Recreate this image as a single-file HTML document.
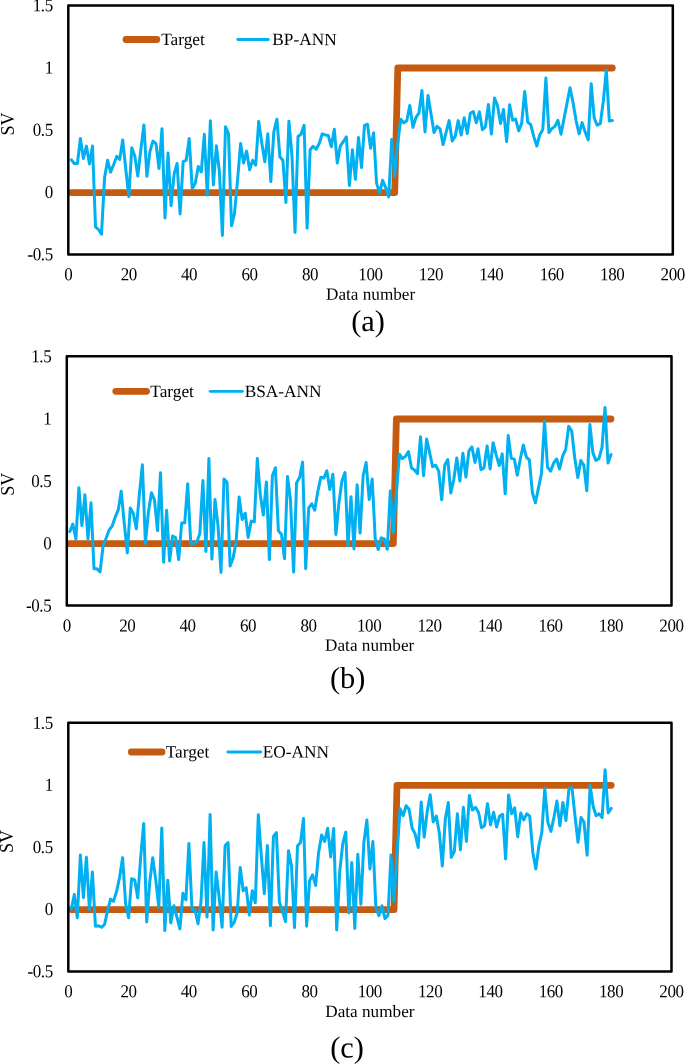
<!DOCTYPE html>
<html><head><meta charset="utf-8"><title>Figure</title>
<style>
html,body{margin:0;padding:0;background:#fff;}
body{width:685px;height:1064px;overflow:hidden;}
svg{display:block;will-change:transform;}
text{font-family:"Liberation Serif","Times New Roman",serif;fill:#000;}
.tk{text-rendering:geometricPrecision;}
</style></head><body>
<svg width="685" height="1064" viewBox="0 0 685 1064">
<rect x="0" y="0" width="685" height="1064" fill="#fff"/>

<polyline fill="none" stroke="#C55A11" stroke-width="6.8" stroke-linecap="round" stroke-linejoin="round" points="71.3,192.6 394.7,192.6 397.8,68.0 612.3,68.0"/>
<polyline fill="none" stroke="#00B0F0" stroke-width="3" stroke-linecap="round" stroke-linejoin="round" points="71.3,159.8 74.3,163.5 77.4,163.5 80.4,138.6 83.4,158.5 86.4,146.1 89.5,163.9 92.5,146.1 95.5,226.8 98.5,229.5 101.5,234.2 104.6,177.2 107.6,160.3 110.6,172.2 113.6,164.8 116.7,156.4 119.7,159.4 122.7,139.9 125.7,168.5 128.8,196.6 131.8,147.8 134.8,156.0 137.8,176.0 140.8,149.8 143.9,124.9 146.9,176.3 149.9,151.6 152.9,141.1 156.0,143.6 159.0,168.5 162.0,128.7 165.0,218.0 168.0,153.1 171.1,205.7 174.1,174.1 177.1,163.5 180.1,213.9 183.2,161.3 186.2,160.3 189.2,138.6 192.2,188.4 195.2,183.4 198.3,166.6 201.3,171.9 204.3,134.3 207.3,195.1 210.4,120.7 213.4,184.9 216.4,145.8 219.4,171.9 222.4,235.5 225.5,126.8 228.5,133.6 231.5,225.8 234.5,213.3 237.6,179.7 240.6,143.6 243.6,162.9 246.6,151.1 249.6,169.7 252.7,160.3 255.7,165.1 258.7,121.4 261.7,142.4 264.8,161.8 267.8,133.8 270.8,181.6 273.8,132.0 276.9,119.2 279.9,156.8 282.9,160.5 285.9,202.4 288.9,121.2 292.0,156.0 295.0,232.5 298.0,136.5 301.0,134.3 304.1,125.3 307.1,228.3 310.1,149.8 313.1,146.3 316.1,149.3 319.2,143.6 322.2,133.8 325.2,134.9 328.2,135.4 331.3,146.7 334.3,129.3 337.3,163.1 340.3,146.1 343.3,141.7 346.4,136.9 349.4,185.4 352.4,149.8 355.4,179.3 358.5,137.4 361.5,167.6 364.5,125.3 367.5,124.2 370.6,148.2 373.6,132.8 376.6,183.4 379.6,192.9 382.6,180.4 385.7,187.7 388.7,197.0 391.7,139.5 394.7,176.3 397.8,142.4 400.8,119.2 403.8,122.9 406.8,120.7 409.8,105.4 412.9,127.4 415.9,117.7 418.9,113.2 421.9,90.4 425.0,131.9 428.0,95.5 431.0,113.7 434.0,132.6 437.0,126.3 440.1,128.9 443.1,144.6 446.1,132.4 449.1,120.6 452.2,140.9 455.2,136.4 458.2,120.6 461.2,135.1 464.2,117.8 467.3,133.6 470.3,113.3 473.3,111.6 476.3,122.8 479.4,111.8 482.4,129.7 485.4,126.9 488.4,104.4 491.4,134.1 494.5,98.0 497.5,105.5 500.5,123.6 503.5,109.4 506.6,141.6 509.6,104.8 512.6,120.2 515.6,119.1 518.7,130.9 521.7,123.1 524.7,91.4 527.7,122.2 530.7,124.7 533.8,136.6 536.8,146.0 539.8,134.8 542.8,129.4 545.9,78.1 548.9,132.6 551.9,128.7 554.9,126.3 557.9,120.3 561.0,134.3 564.0,118.7 567.0,103.3 570.0,87.7 573.1,103.0 576.1,120.6 579.1,133.8 582.1,122.6 585.1,131.9 588.2,139.9 591.2,83.7 594.2,118.2 597.2,125.2 600.3,123.6 603.3,101.4 606.3,70.1 609.3,121.1 612.3,120.6"/>
<rect x="68.3" y="5.4" width="604.5" height="249.0" fill="none" stroke="#000" stroke-width="2.5" stroke-linejoin="round"/>
<text transform="translate(52.7,11.3) rotate(0.05) scale(0.93,1)" class="tk" font-size="18.3" letter-spacing="-0.48" text-anchor="end">1.5</text>
<text transform="translate(52.7,73.6) rotate(0.05) scale(0.93,1)" class="tk" font-size="18.3" letter-spacing="-0.48" text-anchor="end">1</text>
<text transform="translate(52.7,135.8) rotate(0.05) scale(0.93,1)" class="tk" font-size="18.3" letter-spacing="-0.48" text-anchor="end">0.5</text>
<text transform="translate(52.7,198.1) rotate(0.05) scale(0.93,1)" class="tk" font-size="18.3" letter-spacing="-0.48" text-anchor="end">0</text>
<text transform="translate(52.7,260.3) rotate(0.05) scale(0.93,1)" class="tk" font-size="18.3" letter-spacing="-0.48" text-anchor="end">-0.5</text>
<text transform="translate(68.2,280.3) rotate(0.05) scale(0.93,1)" class="tk" font-size="18.3" letter-spacing="-0.48" text-anchor="middle">0</text>
<text transform="translate(128.7,280.3) rotate(0.05) scale(0.93,1)" class="tk" font-size="18.3" letter-spacing="-0.48" text-anchor="middle">20</text>
<text transform="translate(189.1,280.3) rotate(0.05) scale(0.93,1)" class="tk" font-size="18.3" letter-spacing="-0.48" text-anchor="middle">40</text>
<text transform="translate(249.5,280.3) rotate(0.05) scale(0.93,1)" class="tk" font-size="18.3" letter-spacing="-0.48" text-anchor="middle">60</text>
<text transform="translate(310.0,280.3) rotate(0.05) scale(0.93,1)" class="tk" font-size="18.3" letter-spacing="-0.48" text-anchor="middle">80</text>
<text transform="translate(370.4,280.3) rotate(0.05) scale(0.93,1)" class="tk" font-size="18.3" letter-spacing="-0.48" text-anchor="middle">100</text>
<text transform="translate(430.9,280.3) rotate(0.05) scale(0.93,1)" class="tk" font-size="18.3" letter-spacing="-0.48" text-anchor="middle">120</text>
<text transform="translate(491.3,280.3) rotate(0.05) scale(0.93,1)" class="tk" font-size="18.3" letter-spacing="-0.48" text-anchor="middle">140</text>
<text transform="translate(551.8,280.3) rotate(0.05) scale(0.93,1)" class="tk" font-size="18.3" letter-spacing="-0.48" text-anchor="middle">160</text>
<text transform="translate(612.2,280.3) rotate(0.05) scale(0.93,1)" class="tk" font-size="18.3" letter-spacing="-0.48" text-anchor="middle">180</text>
<text transform="translate(672.7,280.3) rotate(0.05) scale(0.93,1)" class="tk" font-size="18.3" letter-spacing="-0.48" text-anchor="middle">200</text>
<text class="tk" transform="translate(370.6,299.8) rotate(0.03)" font-size="17.2" text-anchor="middle">Data number</text>
<text class="tk" transform="translate(368,330.9) rotate(0.03)" font-size="30.4" text-anchor="middle">(a)</text>
<text transform="translate(13.5,124) rotate(-90) scale(0.94,1)" font-size="19.2" text-anchor="middle">SV</text>
<line x1="126" y1="39.5" x2="156.8" y2="39.5" stroke="#C55A11" stroke-width="6.8" stroke-linecap="round"/>
<text class="tk" transform="translate(161.2,45.1) rotate(0.03)" font-size="17.3">Target</text>
<line x1="237.8" y1="39.5" x2="268.3" y2="39.5" stroke="#00B0F0" stroke-width="2.8" stroke-linecap="round"/>
<text class="tk" transform="translate(272.3,45.1) rotate(0.03)" font-size="17.3">BP-ANN</text>
<polyline fill="none" stroke="#C55A11" stroke-width="6.8" stroke-linecap="round" stroke-linejoin="round" points="69.8,543.7 393.3,543.7 396.4,419.0 611.0,419.0"/>
<polyline fill="none" stroke="#00B0F0" stroke-width="3" stroke-linecap="round" stroke-linejoin="round" points="69.8,531.6 72.8,524.1 75.9,539.0 78.9,487.7 81.9,525.6 84.9,494.8 88.0,539.0 91.0,502.8 94.0,568.8 97.0,568.8 100.1,571.8 103.1,545.8 106.1,538.3 109.1,530.1 112.2,525.8 115.2,517.2 118.2,510.2 121.2,491.3 124.2,522.6 127.3,552.9 130.3,507.9 133.3,513.5 136.3,528.8 139.4,494.0 142.4,464.7 145.4,543.5 148.4,512.1 151.5,492.8 154.5,500.0 157.5,530.6 160.5,472.8 163.6,562.3 166.6,510.2 169.6,560.9 172.6,536.0 175.6,537.5 178.7,559.6 181.7,523.0 184.7,523.0 187.7,483.8 190.8,543.9 193.8,543.5 196.8,542.0 199.8,533.8 202.9,480.5 205.9,551.4 208.9,458.6 211.9,559.1 215.0,499.6 218.0,525.6 221.0,572.4 224.0,479.0 227.0,482.3 230.1,566.1 233.1,557.9 236.1,542.0 239.1,497.0 242.2,519.6 245.2,513.2 248.2,537.5 251.2,521.1 254.3,521.8 257.3,458.6 260.3,494.7 263.3,515.0 266.4,481.9 269.4,559.6 272.4,475.7 275.4,467.7 278.4,530.8 281.5,534.5 284.5,558.6 287.5,476.5 290.5,500.0 293.6,572.1 296.6,482.7 299.6,477.5 302.6,462.1 305.7,568.7 308.7,507.9 311.7,503.8 314.7,510.2 317.8,491.8 320.8,477.2 323.8,478.2 326.8,470.7 329.8,489.4 332.9,474.2 335.9,534.5 338.9,503.4 341.9,481.0 345.0,472.6 348.0,545.8 351.0,496.7 354.0,548.9 357.1,484.7 360.1,533.1 363.1,476.0 366.1,462.5 369.2,499.6 372.2,479.0 375.2,538.3 378.2,549.5 381.2,537.9 384.3,539.0 387.3,549.3 390.3,491.0 393.3,532.8 396.4,493.4 399.4,454.2 402.4,458.6 405.4,456.4 408.5,451.7 411.5,468.1 414.5,470.0 417.5,473.7 420.5,436.7 423.6,475.7 426.6,438.9 429.6,452.3 432.6,466.7 435.7,465.2 438.7,471.2 441.7,499.8 444.7,465.2 447.8,459.5 450.8,493.0 453.8,479.5 456.8,458.0 459.9,481.0 462.9,453.2 465.9,477.0 468.9,450.9 471.9,446.9 475.0,462.5 478.0,448.7 481.0,469.7 484.0,467.9 487.1,445.9 490.1,469.0 493.1,442.7 496.1,454.6 499.2,465.6 502.2,453.9 505.2,493.8 508.2,435.6 511.3,458.4 514.3,459.1 517.3,475.3 520.3,459.0 523.3,445.1 526.4,457.1 529.4,460.1 532.4,492.8 535.4,502.8 538.5,487.9 541.5,473.2 544.5,420.9 547.5,467.1 550.6,471.1 553.6,463.1 556.6,459.0 559.6,469.0 562.7,455.9 565.7,449.4 568.7,426.2 571.7,431.0 574.7,457.5 577.8,477.5 580.8,460.6 583.8,465.1 586.8,490.8 589.9,424.6 592.9,452.9 595.9,460.4 598.9,458.8 602.0,447.5 605.0,407.4 608.0,463.1 611.0,454.5"/>
<rect x="66.8" y="356.3" width="604.7" height="249.3" fill="none" stroke="#000" stroke-width="2.5" stroke-linejoin="round"/>
<text transform="translate(51.2,362.2) rotate(0.05) scale(0.93,1)" class="tk" font-size="18.3" letter-spacing="-0.48" text-anchor="end">1.5</text>
<text transform="translate(51.2,424.5) rotate(0.05) scale(0.93,1)" class="tk" font-size="18.3" letter-spacing="-0.48" text-anchor="end">1</text>
<text transform="translate(51.2,486.9) rotate(0.05) scale(0.93,1)" class="tk" font-size="18.3" letter-spacing="-0.48" text-anchor="end">0.5</text>
<text transform="translate(51.2,549.2) rotate(0.05) scale(0.93,1)" class="tk" font-size="18.3" letter-spacing="-0.48" text-anchor="end">0</text>
<text transform="translate(51.2,611.5) rotate(0.05) scale(0.93,1)" class="tk" font-size="18.3" letter-spacing="-0.48" text-anchor="end">-0.5</text>
<text transform="translate(66.7,631.5) rotate(0.05) scale(0.93,1)" class="tk" font-size="18.3" letter-spacing="-0.48" text-anchor="middle">0</text>
<text transform="translate(127.2,631.5) rotate(0.05) scale(0.93,1)" class="tk" font-size="18.3" letter-spacing="-0.48" text-anchor="middle">20</text>
<text transform="translate(187.6,631.5) rotate(0.05) scale(0.93,1)" class="tk" font-size="18.3" letter-spacing="-0.48" text-anchor="middle">40</text>
<text transform="translate(248.1,631.5) rotate(0.05) scale(0.93,1)" class="tk" font-size="18.3" letter-spacing="-0.48" text-anchor="middle">60</text>
<text transform="translate(308.6,631.5) rotate(0.05) scale(0.93,1)" class="tk" font-size="18.3" letter-spacing="-0.48" text-anchor="middle">80</text>
<text transform="translate(369.1,631.5) rotate(0.05) scale(0.93,1)" class="tk" font-size="18.3" letter-spacing="-0.48" text-anchor="middle">100</text>
<text transform="translate(429.5,631.5) rotate(0.05) scale(0.93,1)" class="tk" font-size="18.3" letter-spacing="-0.48" text-anchor="middle">120</text>
<text transform="translate(490.0,631.5) rotate(0.05) scale(0.93,1)" class="tk" font-size="18.3" letter-spacing="-0.48" text-anchor="middle">140</text>
<text transform="translate(550.5,631.5) rotate(0.05) scale(0.93,1)" class="tk" font-size="18.3" letter-spacing="-0.48" text-anchor="middle">160</text>
<text transform="translate(610.9,631.5) rotate(0.05) scale(0.93,1)" class="tk" font-size="18.3" letter-spacing="-0.48" text-anchor="middle">180</text>
<text transform="translate(671.4,631.5) rotate(0.05) scale(0.93,1)" class="tk" font-size="18.3" letter-spacing="-0.48" text-anchor="middle">200</text>
<text class="tk" transform="translate(369.7,650.8) rotate(0.03)" font-size="17.2" text-anchor="middle">Data number</text>
<text class="tk" transform="translate(347.7,688) rotate(0.03)" font-size="30.4" text-anchor="middle">(b)</text>
<text transform="translate(13.8,484.2) rotate(-90) scale(0.94,1)" font-size="19.2" text-anchor="middle">SV</text>
<line x1="115.8" y1="391.3" x2="146.5" y2="391.3" stroke="#C55A11" stroke-width="6.8" stroke-linecap="round"/>
<text class="tk" transform="translate(150.3,396.9) rotate(0.03)" font-size="17.3">Target</text>
<line x1="210.2" y1="391.3" x2="242.4" y2="391.3" stroke="#00B0F0" stroke-width="2.8" stroke-linecap="round"/>
<text class="tk" transform="translate(244.7,396.9) rotate(0.03)" font-size="17.3">BSA-ANN</text>
<polyline fill="none" stroke="#C55A11" stroke-width="6.8" stroke-linecap="round" stroke-linejoin="round" points="71.3,909.6 394.0,909.6 397.0,785.3 611.2,785.3"/>
<polyline fill="none" stroke="#00B0F0" stroke-width="3" stroke-linecap="round" stroke-linejoin="round" points="71.3,909.2 74.3,894.5 77.3,917.8 80.4,855.1 83.4,897.6 86.4,857.2 89.4,909.5 92.4,872.0 95.4,926.2 98.5,925.7 101.5,927.3 104.5,924.5 107.5,911.1 110.5,899.1 113.5,901.3 116.6,891.5 119.6,877.2 122.6,857.7 125.6,903.5 128.6,917.8 131.6,878.7 134.7,879.8 137.7,897.8 140.7,857.0 143.7,823.5 146.7,921.9 149.7,882.5 152.7,857.7 155.8,880.0 158.8,907.3 161.8,828.0 164.8,930.6 167.8,880.2 170.8,923.0 173.9,905.8 176.9,917.1 179.9,928.8 182.9,893.3 185.9,899.8 188.9,843.4 192.0,909.5 195.0,909.9 198.0,923.8 201.0,902.0 204.0,842.6 207.0,917.1 210.1,814.5 213.1,929.9 216.1,872.0 219.1,896.8 222.1,927.3 225.1,845.6 228.1,842.6 231.2,926.4 234.2,922.3 237.2,912.6 240.2,867.5 243.2,890.7 246.2,887.7 249.3,915.1 252.3,890.7 255.3,902.8 258.3,814.8 261.3,855.8 264.3,893.7 267.4,845.6 270.4,925.7 273.4,836.5 276.4,832.6 279.4,902.0 282.4,911.1 285.5,921.6 288.5,850.8 291.5,865.9 294.5,927.6 297.5,846.1 300.5,842.6 303.5,818.5 306.6,926.2 309.6,880.7 312.6,874.9 315.6,885.5 318.6,852.4 321.6,835.0 324.7,841.5 327.7,828.3 330.7,856.9 333.7,828.5 336.7,929.9 339.7,872.0 342.8,843.4 345.8,832.1 348.8,912.9 351.8,862.6 354.8,928.4 357.8,854.2 360.9,904.3 363.9,841.9 366.9,820.0 369.9,869.0 372.9,841.5 375.9,908.0 378.9,915.6 382.0,905.8 385.0,918.6 388.0,915.2 391.0,855.1 394.0,901.5 397.0,853.3 400.1,808.8 403.1,815.7 406.1,805.8 409.1,809.2 412.1,828.2 415.1,833.8 418.2,847.5 421.2,801.9 424.2,837.2 427.2,811.6 430.2,794.8 433.2,821.9 436.3,816.1 439.3,832.7 442.3,866.0 445.3,819.1 448.3,802.6 451.3,857.4 454.3,851.5 457.4,813.8 460.4,850.0 463.4,807.3 466.4,841.4 469.4,795.4 472.4,810.1 475.5,807.3 478.5,812.3 481.5,827.8 484.5,825.8 487.5,803.7 490.5,824.9 493.6,812.3 496.6,827.0 499.6,816.1 502.6,814.3 505.6,858.9 508.6,795.0 511.7,813.8 514.7,807.8 517.7,836.7 520.7,813.0 523.7,819.9 526.7,813.8 529.7,816.1 532.8,852.2 535.8,869.1 538.8,846.2 541.8,832.7 544.8,788.3 547.8,822.1 550.9,831.4 553.9,817.6 556.9,801.1 559.9,825.8 562.9,802.4 565.9,820.5 569.0,788.3 572.0,787.8 575.0,816.1 578.0,842.3 581.0,817.6 584.0,822.1 587.1,855.2 590.1,785.2 593.1,806.3 596.1,815.8 599.1,813.8 602.1,817.6 605.1,769.8 608.2,812.8 611.2,808.3"/>
<rect x="68.3" y="722.8" width="603.2" height="248.6" fill="none" stroke="#000" stroke-width="2.5" stroke-linejoin="round"/>
<text transform="translate(52.7,728.7) rotate(0.05) scale(0.93,1)" class="tk" font-size="18.3" letter-spacing="-0.48" text-anchor="end">1.5</text>
<text transform="translate(52.7,790.8) rotate(0.05) scale(0.93,1)" class="tk" font-size="18.3" letter-spacing="-0.48" text-anchor="end">1</text>
<text transform="translate(52.7,853.0) rotate(0.05) scale(0.93,1)" class="tk" font-size="18.3" letter-spacing="-0.48" text-anchor="end">0.5</text>
<text transform="translate(52.7,915.1) rotate(0.05) scale(0.93,1)" class="tk" font-size="18.3" letter-spacing="-0.48" text-anchor="end">0</text>
<text transform="translate(52.7,977.3) rotate(0.05) scale(0.93,1)" class="tk" font-size="18.3" letter-spacing="-0.48" text-anchor="end">-0.5</text>
<text transform="translate(68.2,997.3) rotate(0.05) scale(0.93,1)" class="tk" font-size="18.3" letter-spacing="-0.48" text-anchor="middle">0</text>
<text transform="translate(128.5,997.3) rotate(0.05) scale(0.93,1)" class="tk" font-size="18.3" letter-spacing="-0.48" text-anchor="middle">20</text>
<text transform="translate(188.8,997.3) rotate(0.05) scale(0.93,1)" class="tk" font-size="18.3" letter-spacing="-0.48" text-anchor="middle">40</text>
<text transform="translate(249.2,997.3) rotate(0.05) scale(0.93,1)" class="tk" font-size="18.3" letter-spacing="-0.48" text-anchor="middle">60</text>
<text transform="translate(309.5,997.3) rotate(0.05) scale(0.93,1)" class="tk" font-size="18.3" letter-spacing="-0.48" text-anchor="middle">80</text>
<text transform="translate(369.8,997.3) rotate(0.05) scale(0.93,1)" class="tk" font-size="18.3" letter-spacing="-0.48" text-anchor="middle">100</text>
<text transform="translate(430.1,997.3) rotate(0.05) scale(0.93,1)" class="tk" font-size="18.3" letter-spacing="-0.48" text-anchor="middle">120</text>
<text transform="translate(490.4,997.3) rotate(0.05) scale(0.93,1)" class="tk" font-size="18.3" letter-spacing="-0.48" text-anchor="middle">140</text>
<text transform="translate(550.8,997.3) rotate(0.05) scale(0.93,1)" class="tk" font-size="18.3" letter-spacing="-0.48" text-anchor="middle">160</text>
<text transform="translate(611.1,997.3) rotate(0.05) scale(0.93,1)" class="tk" font-size="18.3" letter-spacing="-0.48" text-anchor="middle">180</text>
<text transform="translate(671.4,997.3) rotate(0.05) scale(0.93,1)" class="tk" font-size="18.3" letter-spacing="-0.48" text-anchor="middle">200</text>
<text class="tk" transform="translate(369.9,1017.1) rotate(0.03)" font-size="17.2" text-anchor="middle">Data number</text>
<text class="tk" transform="translate(347,1057.6) rotate(0.03)" font-size="30.4" text-anchor="middle">(c)</text>
<text transform="translate(12.7,841.5) rotate(-90) scale(0.94,1)" font-size="19.2" text-anchor="middle">SV</text>
<line x1="131.3" y1="752" x2="162" y2="752" stroke="#C55A11" stroke-width="6.8" stroke-linecap="round"/>
<text class="tk" transform="translate(165.7,757.6) rotate(0.03)" font-size="17.3">Target</text>
<line x1="227.8" y1="752" x2="260.8" y2="752" stroke="#00B0F0" stroke-width="2.8" stroke-linecap="round"/>
<text class="tk" transform="translate(262.7,757.6) rotate(0.03)" font-size="17.3">EO-ANN</text>
</svg>
</body></html>
